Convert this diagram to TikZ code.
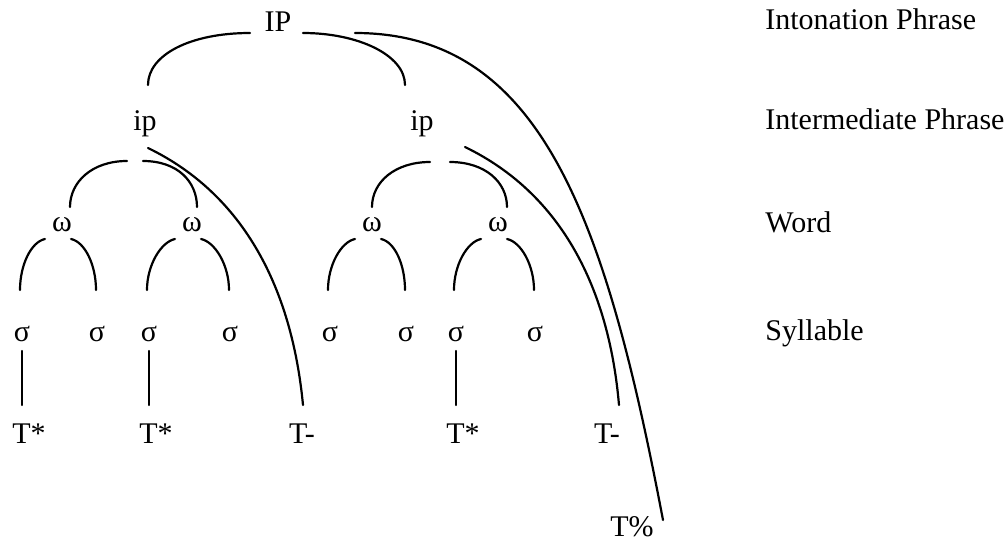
\documentclass[tikz,border=0pt]{standalone}
\usepackage{fontspec}
\setmainfont{Liberation Serif}
\usetikzlibrary{calc}

\begin{document}
\begin{tikzpicture}[x=0.5pt, y=-0.5pt,
  unit/.style={font=\fontsize{15}{18}\selectfont, inner sep=0pt, anchor=base},
  tier/.style={unit, anchor=base west},
  branch/.style={line width=1.1pt, line cap=round}
]
\useasboundingbox (0,0) rectangle (1008,540);

% prosodic units
\node[unit] (IP)  at (278,32)  {IP};
\node[unit] (ipL) at (145,131) {ip};
\node[unit] (ipR) at (422,131) {ip};
\node[unit] (w1)  at (62,232)  {ω};
\node[unit] (w2)  at (192,232) {ω};
\node[unit] (w3)  at (372,232) {ω};
\node[unit] (w4)  at (498,232) {ω};
\node[unit] (s1)  at (22,342)  {σ};
\node[unit] (s2)  at (97,342)  {σ};
\node[unit] (s3)  at (149,342) {σ};
\node[unit] (s4)  at (230,342) {σ};
\node[unit] (s5)  at (330,342) {σ};
\node[unit] (s6)  at (406,342) {σ};
\node[unit] (s7)  at (456,342) {σ};
\node[unit] (s8)  at (535,342) {σ};

% tones
\node[unit] (t1) at (29,443)  {T*};
\node[unit] (t2) at (156,443) {T*};
\node[unit] (t3) at (302,443) {T-};
\node[unit] (t4) at (463,443) {T*};
\node[unit] (t5) at (607,443) {T-};
\node[unit] (tb) at (632,536) {T\%};

% tier names
\node[tier] (nIP) at (765,30)  {Intonation Phrase};
\node[tier] (nip) at (765,130) {Intermediate Phrase};
\node[tier] (nw)  at (765,233) {Word};
\node[tier] (ns)  at (765,341) {Syllable};

% IP branches
\draw[branch] ($(IP.base)+(-28,1)$) .. controls +(-60,0) and +(0,-30) .. ($(ipL.base)+(3,-46)$);
\draw[branch] ($(IP.base)+(25,1)$) .. controls +(55,0) and +(0,-30) .. ($(ipR.base)+(-17,-46)$);
\draw[branch] ($(IP.base)+(77,1)$) .. controls (540,33) and (605,215) .. ($(tb.base)+(31,-16)$);

% ip branches
\draw[branch] ($(ipL.base)+(-18,30)$) .. controls +(-35,0) and +(0,-25) .. ($(w1.base)+(8,-25)$);
\draw[branch] ($(ipL.base)+(-2,30)$) .. controls +(35,0) and +(0,-25) .. ($(w2.base)+(5,-25)$);
\draw[branch] ($(ipL.base)+(3,17)$) .. controls (245,195) and (292,290) .. ($(t3.base)+(1,-38)$);
\draw[branch] ($(ipR.base)+(8,31)$) .. controls +(-35,0) and +(0,-25) .. ($(w3.base)+(0,-25)$);
\draw[branch] ($(ipR.base)+(28,31)$) .. controls +(35,0) and +(0,-25) .. ($(w4.base)+(9,-25)$);
\draw[branch] ($(ipR.base)+(43,16)$) .. controls (562,194) and (609,289) .. ($(t5.base)+(12,-38)$);

% word branches
\foreach \w/\a/\b in {w1/s1/s2, w2/s3/s4, w3/s5/s6, w4/s7/s8} {
  \draw[branch] ($(\w.base)+(-17,7)$) .. controls +(-14,3) and +(0,-25) .. ($(\a.base)+(-2,-52)$);
  \draw[branch] ($(\w.base)+(9,7)$) .. controls +(14,3) and +(0,-25) .. ($(\b.base)+(-1,-52)$);
}

% starred tones
\foreach \s/\t in {s1/t1, s3/t2, s7/t4}
  \draw[branch] ($(\s.base)+(0,9)$) -- ($(\s.base |- \t.base)+(0,-38)$);
\end{tikzpicture}
\end{document}
